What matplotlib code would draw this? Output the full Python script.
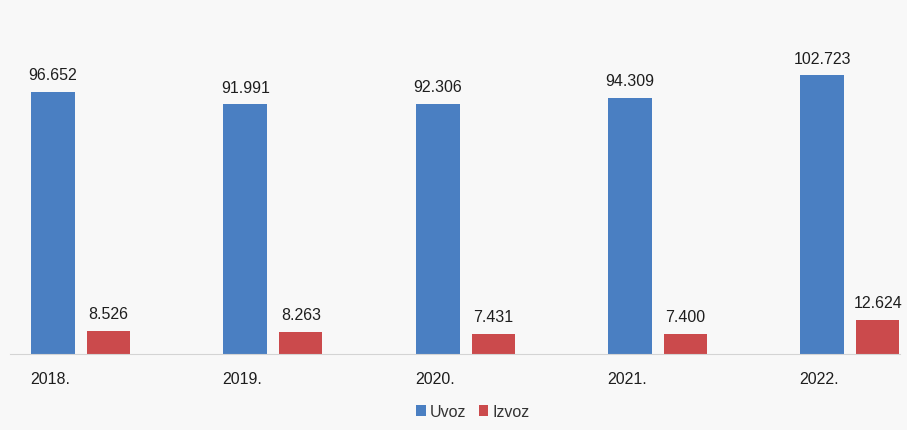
import matplotlib.pyplot as plt
import numpy as np

plt.rcParams['font.family'] = ['Liberation Sans', 'DejaVu Sans']

years = ['2018.', '2019.', '2020.', '2021.', '2022.']
uvoz = [96.652, 91.991, 92.306, 94.309, 102.723]
izvoz = [8.526, 8.263, 7.431, 7.400, 12.624]

blue = '#4a7fc2'
red = '#cb4a4c'
bg = '#f8f8f8'

fig = plt.figure(figsize=(9.07, 4.31), dpi=100)
fig.patch.set_facecolor(bg)
ax = fig.add_axes([10 / 907, 1 - 355 / 431, 890 / 907, 340 / 431])
ax.set_facecolor(bg)

x = np.arange(len(years))
w_b = 44 / 192.3
w_r = 43 / 192.3
off = 55.5 / 192.3
b1 = ax.bar(x, uvoz, width=w_b, color=blue, label='Uvoz')
b2 = ax.bar(x + off, izvoz, width=w_r, color=red, label='Izvoz')

for bars, vals in ((b1, uvoz), (b2, izvoz)):
    for b, v in zip(bars, vals):
        ax.annotate(f'{v:.3f}', (b.get_x() + b.get_width() / 2, v),
                    xytext=(0, 7), textcoords='offset points',
                    ha='center', va='bottom', fontsize=11.5, color='#1e1e1e')

ax.set_xlim(-43 / 192.3, 847 / 192.3)
ax.set_ylim(0, 340 / 2.713)
ax.set_xticks(x - 0.015)
ax.set_xticklabels(years, fontsize=11.5, color='#1e1e1e')
ax.tick_params(axis='x', length=0, pad=12)
ax.set_yticks([])
for s in ['top', 'right', 'left']:
    ax.spines[s].set_visible(False)
ax.spines['bottom'].set_color('#d4d4d4')

ax.legend(loc='upper center', bbox_to_anchor=(0.52, -0.105), ncol=2,
          frameon=False, fontsize=11.5, handlelength=0.6, handleheight=0.6,
          handletextpad=0.25, columnspacing=0.8, labelcolor='#333333')

fig.savefig('out.png', dpi=100, facecolor=bg)
